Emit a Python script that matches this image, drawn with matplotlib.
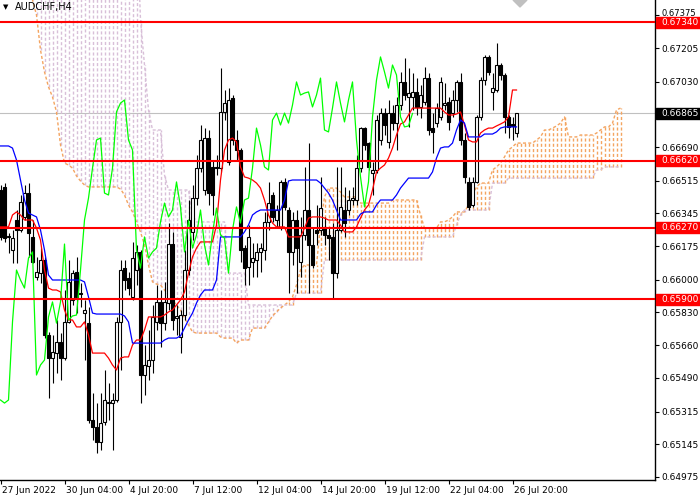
import numpy as np
import matplotlib.pyplot as plt
from matplotlib.transforms import blended_transform_factory, ScaledTranslation
from matplotlib.patches import Rectangle, Polygon

# --- AUDCHF H4 candles, prices in points (1 point = 0.00001) ---
open_pts = [66467, 66483, 66223, 66155, 66311, 66259, 66327, 66451, 66223, 66015,
            66035, 66103, 65713, 65593, 65619, 65677, 65593, 65781, 65895, 66041,
            65931, 65827, 65775, 65271, 65235, 65157, 65261, 65365, 65359, 65375,
            65781, 66061, 66009, 65911, 66051, 66145, 65505, 65552, 65583, 65781,
            65885, 65775, 65879, 66186, 65801, 65703, 65817, 66051, 66249, 66425,
            66581, 66467, 66737, 66587, 66587, 66581, 66873, 66613, 66945, 66727,
            66675, 66165, 66067, 66093, 66103, 66145, 66155, 66301, 66441, 66311,
            66275, 66509, 66363, 66145, 66311, 66093, 66233, 66363, 66181, 66259,
            66259, 66275, 66233, 66223, 66035, 66259, 66363, 66363, 66415, 66415,
            66581, 66789, 66711, 66555, 66571, 66727, 66867, 66717, 66867, 66815,
            66909, 67029, 66951, 66951, 66977, 66899, 66925, 67049, 66789, 66815,
            66847, 66909, 66925, 66867, 66935, 67029, 66727, 66509, 66389, 66509,
            66847, 67039, 67159, 66977, 66987, 67117, 67065, 66847, 66810, 66763]
high_pts = [66493, 66503, 66243, 66259, 66363, 66441, 66493, 66503, 66311, 66119,
            66165, 66119, 65729, 65713, 65791, 65723, 65947, 66103, 66051, 66119,
            65983, 65895, 65859, 65411, 65359, 65411, 65531, 65463, 65411, 65807,
            66103, 66103, 66041, 66197, 66181, 66155, 65661, 65739, 65869, 65973,
            65947, 65989, 66295, 66249, 65869, 65843, 66155, 66415, 66493, 66649,
            66805, 66789, 66779, 66623, 66649, 67101, 66987, 66997, 66961, 66779,
            66685, 66181, 66285, 66191, 66191, 66191, 66353, 66509, 66457, 66389,
            66519, 66529, 66379, 66353, 66363, 66327, 66587, 66711, 66269, 66389,
            66535, 66327, 66275, 66295, 66587, 66587, 66483, 66467, 66483, 66649,
            66795, 66795, 66717, 66613, 66857, 66893, 66893, 66935, 66909, 66951,
            67081, 67153, 67101, 67075, 67049, 67013, 67107, 67075, 66867, 66919,
            67055, 67023, 66951, 66987, 67039, 67075, 66763, 66535, 66535, 66857,
            67055, 67169, 67169, 67075, 67231, 67127, 67075, 66857, 66847, 66865]
low_pts = [66207, 66197, 66139, 66087, 66087, 66249, 66311, 66119, 66087, 65999,
           65983, 65697, 65385, 65463, 65515, 65479, 65583, 65775, 65869, 65827,
           65859, 65583, 65255, 65167, 65099, 65115, 65245, 65271, 65115, 65365,
           65531, 65947, 65921, 65895, 65973, 65359, 65401, 65479, 65515, 65739,
           65651, 65739, 65843, 65739, 65713, 65619, 65791, 66025, 66207, 66389,
           66561, 66441, 66389, 66337, 66545, 66561, 66831, 66597, 66701, 66623,
           66093, 65973, 65973, 66015, 66015, 66041, 66103, 66259, 66301, 66269,
           66259, 66363, 65931, 66077, 65931, 66015, 66207, 65931, 66061, 66181,
           66233, 66181, 66103, 65906, 66009, 66249, 66223, 66337, 66389, 66389,
           66561, 66675, 66571, 66441, 66555, 66701, 66753, 66685, 66779, 66675,
           66883, 66935, 66795, 66883, 66857, 66841, 66909, 66753, 66659, 66795,
           66831, 66883, 66779, 66847, 66873, 66701, 66503, 66363, 66379, 66503,
           66831, 67013, 67065, 66883, 66977, 67039, 66763, 66737, 66727, 66743]
close_pts = [66223, 66217, 66228, 66217, 66259, 66405, 66451, 66243, 66093, 66041,
             66103, 65713, 65593, 65625, 65677, 65593, 65781, 65989, 66035, 65911,
             65926, 65843, 65271, 65235, 65157, 65255, 65375, 65359, 65375, 65781,
             66051, 65999, 65957, 66113, 66145, 65505, 65557, 65583, 65807, 65885,
             65775, 65885, 66186, 65791, 65812, 65817, 66051, 66311, 66425, 66581,
             66727, 66737, 66451, 66441, 66581, 66873, 66919, 66935, 66727, 66675,
             66155, 66061, 66223, 66113, 66145, 66165, 66301, 66399, 66327, 66363,
             66509, 66379, 66145, 66311, 66165, 66233, 66363, 66181, 66077, 66243,
             66373, 66233, 66217, 66035, 66259, 66379, 66295, 66415, 66425, 66581,
             66789, 66701, 66587, 66571, 66831, 66867, 66805, 66867, 66815, 66909,
             67029, 66961, 66971, 66977, 66899, 66961, 67049, 66779, 66769, 66893,
             67029, 66919, 66821, 66935, 67029, 66727, 66535, 66379, 66509, 66847,
             67039, 67159, 67081, 66997, 67117, 67065, 66847, 66795, 66800, 66865]

# --- Ichimoku lines (points) ---
tenkan_pts = [66275, 66275, 66275, 66337, 66353, 66337, 66311, 66311, 66311, 66269,
              66207, 66051, 65957, 65947, 65947, 65937, 65843, 65791, 65791, 65755,
              65755, 65781, 65713, 65619, 65619, 65619, 65619, 65593, 65557, 65531,
              65593, 65599, 65599, 65661, 65687, 65687, 65739, 65807, 65807, 65807,
              65807, 65817, 65833, 65843, 65869, 65895, 65937, 66035, 66119, 66165,
              66197, 66197, 66197, 66197, 66285, 66519, 66675, 66727, 66737, 66717,
              66587, 66535, 66529, 66519, 66503, 66477, 66415, 66337, 66295, 66275,
              66275, 66275, 66223, 66223, 66223, 66223, 66269, 66321, 66327, 66327,
              66327, 66321, 66311, 66311, 66311, 66285, 66249, 66249, 66249, 66275,
              66321, 66363, 66389, 66467, 66561, 66581, 66597, 66633, 66685, 66753,
              66810, 66821, 66857, 66893, 66893, 66893, 66893, 66893, 66893, 66893,
              66893, 66873, 66857, 66857, 66862, 66873, 66805, 66727, 66717, 66717,
              66763, 66779, 66789, 66789, 66800, 66810, 66821, 66847, 66987, 66987]
kijun_pts = [66696, 66696, 66696, 66685, 66623, 66519, 66415, 66347, 66337, 66327,
             66259, 66155, 66025, 65999, 65999, 65999, 65999, 65999, 65999, 65999,
             65999, 65989, 65911, 65827, 65822, 65822, 65822, 65822, 65822, 65822,
             65822, 65812, 65781, 65671, 65671, 65671, 65671, 65671, 65671, 65671,
             65671, 65687, 65697, 65697, 65697, 65708, 65749, 65791, 65827, 65879,
             65921, 65947, 65947, 65947, 65999, 66223, 66223, 66223, 66223, 66223,
             66223, 66249, 66285, 66337, 66353, 66363, 66363, 66363, 66363, 66363,
             66363, 66415, 66514, 66519, 66519, 66519, 66519, 66519, 66519, 66519,
             66503, 66477, 66451, 66415, 66363, 66311, 66311, 66311, 66311, 66311,
             66342, 66353, 66353, 66353, 66389, 66415, 66415, 66415, 66415, 66441,
             66477, 66503, 66529, 66529, 66529, 66529, 66529, 66529, 66561, 66633,
             66685, 66691, 66691, 66711, 66779, 66831, 66815, 66743, 66743, 66743,
             66743, 66758, 66758, 66758, 66769, 66789, 66795, 66795, 66795, 66795]
span_a_pts = [67767, 67715, 67663, 67637, 67611, 67585, 67533, 67481, 67455, 67377,
              67195, 67081, 67003, 66951, 66873, 66701, 66607, 66597, 66581, 66540,
              66514, 66493, 66483, 66483, 66483, 66483, 66483, 66483, 66483, 66483,
              66472, 66441, 66389, 66353, 66301, 66249, 66181, 66077, 65989, 65978,
              65973, 65947, 65921, 65895, 65869, 65843, 65801, 65765, 65729, 65723,
              65723, 65723, 65723, 65723, 65723, 65703, 65697, 65697, 65697, 65671,
              65687, 65687, 65687, 65749, 65749, 65749, 65749, 65781, 65812, 65833,
              65853, 65869, 65885, 65911, 65973, 66051, 66077, 66077, 66077, 66077,
              66285, 66431, 66477, 66477, 66477, 66457, 66431, 66431, 66431, 66431,
              66399, 66399, 66399, 66399, 66399, 66399, 66399, 66399, 66415, 66415,
              66415, 66415, 66415, 66415, 66415, 66337, 66269, 66269, 66269, 66269,
              66301, 66301, 66311, 66327, 66353, 66353, 66353, 66389, 66441, 66483,
              66503, 66503, 66503, 66571, 66587, 66607, 66639, 66675, 66691, 66711,
              66711, 66711, 66711, 66711, 66727, 66743, 66779, 66779, 66789, 66800,
              66815, 66847, 66743, 66743, 66743, 66753, 66753, 66753, 66753, 66763,
              66779, 66795, 66795, 66815, 66883, 66893]
span_b_pts = ([67900] * 35 +
              [67351, 67117, 66883, 66779, 66779, 66779, 66545] +
              [66467] * 6 + [66337] + [66301] * 8 + [66035] * 5 +
              [65869] * 12 + [65931] * 7 + [66103] * 25 + [66223] * 8 +
              [66285, 66337] + [66363] * 7 + [66503] * 4 + [66529] * 22 +
              [66571] * 2 + [66587] * 5)

levels = [0.67340, 0.66620, 0.66270, 0.65900]
last_price = 0.66865
price_ticks = [0.67375, 0.67205, 0.67030, 0.66690, 0.66515, 0.66345, 0.66175,
               0.66000, 0.65830, 0.65660, 0.65490, 0.65315, 0.65145, 0.64975]
time_ticks = [0, 16, 32, 48, 64, 80, 96, 112, 128]
time_labels = ["27 Jun 2022", "30 Jun 04:00", "4 Jul 20:00", "7 Jul 12:00",
               "12 Jul 04:00", "14 Jul 20:00", "19 Jul 12:00", "22 Jul 04:00",
               "26 Jul 20:00"]

o = np.array(open_pts) / 1e5
h = np.array(high_pts) / 1e5
l = np.array(low_pts) / 1e5
c = np.array(close_pts) / 1e5
tenkan = np.array(tenkan_pts) / 1e5
kijun = np.array(kijun_pts) / 1e5
span_a = np.array(span_a_pts) / 1e5
span_b = np.array(span_b_pts) / 1e5

fig = plt.figure(figsize=(7, 5), dpi=100)
ax = fig.add_axes([0, 20 / 500, 655 / 700, 480 / 500])
ax.set_xlim(-0.125, 163.625)
ax.set_ylim(0.64959, 0.67455)

dash = (0, (2.2, 1.6))
sandy = '#F4A460'
thistle = '#D8BFD8'

# --- cloud ---
xs = np.arange(len(span_a))
up = span_a >= span_b
ax.vlines(xs[up], span_b[up], span_a[up], colors=sandy, linestyles=dash, lw=1.0, zorder=1)
ax.vlines(xs[~up], span_a[~up], span_b[~up], colors=thistle, linestyles=dash, lw=1.0, zorder=1)
ax.plot(xs, span_a, color=sandy, ls=dash, lw=1.0, zorder=1)
ax.plot(xs, span_b, color=thistle, ls=dash, lw=1.0, zorder=1)

# --- last price line ---
ax.axhline(last_price, color='#C0C0C0', lw=0.8, zorder=0.5)

# --- candles ---
x = np.arange(len(o))
bull = c >= o
ax.vlines(x, l, h, color='black', lw=0.8, zorder=3)
ax.bar(x[bull], c[bull] - o[bull], bottom=o[bull], width=0.6, color='white',
       edgecolor='black', lw=0.8, zorder=4)
ax.bar(x[~bull], o[~bull] - c[~bull], bottom=c[~bull], width=0.6, color='black',
       edgecolor='black', lw=0.8, zorder=4)

# --- ichimoku lines ---
ax.plot(x, tenkan, color='#FF0000', lw=0.9, zorder=5)
ax.plot(x, kijun, color='#0000FF', lw=0.9, zorder=5)
ax.plot(x[26:] - 26, c[26:], color='#00FF00', lw=0.9, zorder=5)

# --- levels ---
for lv in levels:
    ax.axhline(lv, color='#FF0000', lw=1.5, zorder=6)

# --- axes styling ---
for s in ['top', 'left']:
    ax.spines[s].set_visible(False)
for s in ['right', 'bottom']:
    ax.spines[s].set_color('black')
    ax.spines[s].set_linewidth(1.0)

ax.yaxis.tick_right()
ax.set_yticks(price_ticks)
ax.set_yticklabels([f"{p:.5f}" for p in price_ticks])
ax.set_xticks(time_ticks)
ax.set_xticklabels(time_labels)
ax.tick_params(axis='both', direction='out', length=3, width=0.8, labelsize=6.5,
               colors='black', pad=1.5)
offset = ScaledTranslation(2 / 100, 0, fig.dpi_scale_trans)
for lab in ax.get_xticklabels():
    lab.set_horizontalalignment('left')
    lab.set_transform(lab.get_transform() + offset)
# the top label sits just above the red tag
top_lab = ax.get_yticklabels()[0]
top_lab.set_fontsize(6)
top_lab.set_transform(top_lab.get_transform() + ScaledTranslation(0, 3 / 100, fig.dpi_scale_trans))

# --- price tags on the right ---
trans = blended_transform_factory(fig.transFigure, ax.transData)
tag_h = 11 * 5.2e-5
for lv, col in [(lv, '#FF0000') for lv in levels] + [(last_price, 'black')]:
    ax.add_patch(Rectangle((656 / 700, lv - tag_h / 2), 44 / 700, tag_h,
                           transform=trans, color=col, clip_on=False, zorder=10))
    ax.text(661 / 700, lv, f"{lv:.5f}", transform=trans, color='white',
            fontsize=6.5, ha='left', va='center', zorder=11, clip_on=False)

# --- title and shift marker ---
fig.text(3 / 700, 1 - 7 / 500, "\u25bc", fontsize=5, va='center', ha='left')
fig.text(15 / 700, 1 - 7 / 500, "AUDCHF,H4", fontsize=7, va='center', ha='left')
fig.patches.append(Polygon([(513 / 700, 1.0), (527 / 700, 1.0), (520 / 700, 1 - 7 / 500)],
                           closed=True, transform=fig.transFigure, color='#C0C0C0'))

fig.savefig("out.png", dpi=100)
